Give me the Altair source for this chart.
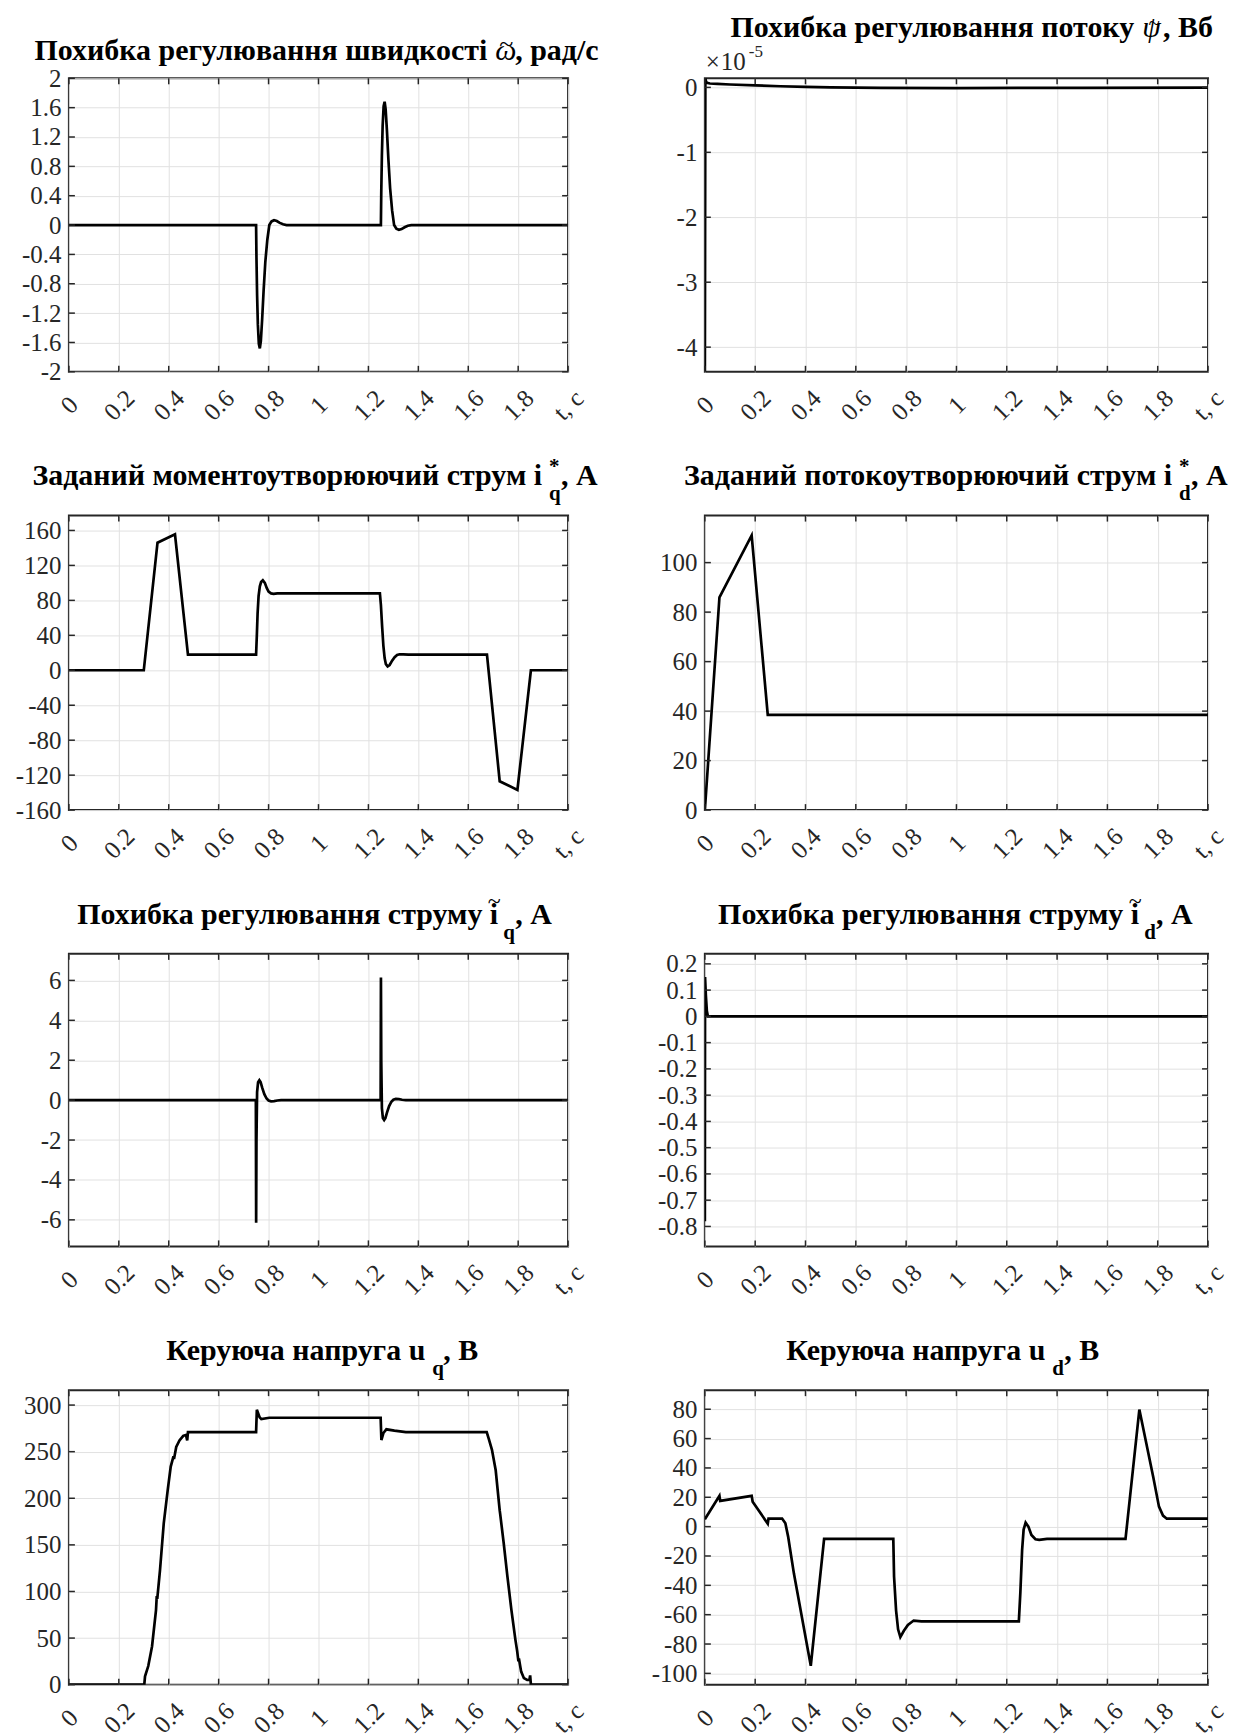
import altair as alt
import pandas as pd

FONT = "Liberation Serif"
AX = "#262626"
GRID = "#e1e1e1"

# ---------------- data ----------------
XTICKS = [0, 0.2, 0.4, 0.6, 0.8, 1.0, 1.2, 1.4, 1.6, 1.8, 2.0]

# 1. speed error, rad/s
t_w = [0, 0.75, 0.7515, 0.754, 0.757, 0.761, 0.765, 0.769, 0.774, 0.78, 0.787, 0.795, 0.803,
       0.812, 0.822, 0.833, 0.845, 0.858, 0.872, 0.89,
       1.25, 1.2515, 1.254, 1.257, 1.261, 1.265, 1.269, 1.274, 1.28, 1.287, 1.295, 1.303,
       1.312, 1.322, 1.333, 1.345, 1.358, 1.372, 1.39, 2.0]
w_err = [0, 0, -0.45, -0.95, -1.35, -1.62, -1.68, -1.58, -1.3, -0.9, -0.5, -0.2, 0.0,
         0.05, 0.065, 0.055, 0.03, 0.01, 0.0, 0,
         0, 0.45, 0.95, 1.35, 1.62, 1.68, 1.58, 1.3, 0.9, 0.5, 0.2, 0.0,
         -0.05, -0.065, -0.055, -0.03, -0.01, 0, 0, 0]
w_ticks = [-2, -1.6, -1.2, -0.8, -0.4, 0, 0.4, 0.8, 1.2, 1.6, 2]

# 2. flux error, x1e-5 Wb
t_psi = [0, 0.002, 0.004, 0.008, 0.02, 0.05, 0.1, 0.2, 0.3, 0.4, 0.5, 0.7, 1.0, 1.5, 2.0]
psi_err_e5 = [-4.6, 0.14, 0.1, 0.07, 0.06, 0.055, 0.045, 0.03, 0.018, 0.008, 0.0, -0.008,
              -0.01, -0.006, -0.004]
psi_ticks = [-4, -3, -2, -1, 0]

# 3. reference torque current iq*, A
t_iqr = [0, 0.30, 0.355, 0.425, 0.477, 0.75, 0.753, 0.756, 0.76, 0.765, 0.77, 0.777, 0.785,
         0.793, 0.80, 0.81, 0.82, 0.835, 1.246, 1.25, 1.255, 1.26, 1.265, 1.27, 1.277, 1.285,
         1.295, 1.305, 1.315, 1.325, 1.34, 1.36, 1.675, 1.726, 1.797, 1.851, 2.0]
iq_ref = [0, 0, 146, 155.5, 18, 18, 40, 65, 85, 96, 101, 103, 100, 94, 90, 88, 87.5, 88,
          88, 75, 50, 28, 14, 7, 4.5, 6, 11, 15, 17.5, 18.3, 18.2, 18, 18, -127, -137, 0, 0]
iqr_ticks = [-160, -120, -80, -40, 0, 40, 80, 120, 160]

# 4. reference flux current id*, A
t_idr = [0, 0.058, 0.186, 0.25, 2.0]
id_ref = [0, 86, 111, 38.5, 38.5]
idr_ticks = [0, 20, 40, 60, 80, 100]

# 5. iq error, A
t_iqe = [0, 0.749, 0.7502, 0.7515, 0.754, 0.758, 0.763, 0.768, 0.775, 0.783, 0.792, 0.80,
         0.81, 0.822, 0.835, 0.85, 1.249, 1.2502, 1.2515, 1.254, 1.258, 1.263, 1.268, 1.275,
         1.283, 1.292, 1.30, 1.31, 1.322, 1.335, 1.35, 2.0]
iq_err = [0, 0, -6.15, -2.0, 0.4, 0.9, 1.0, 0.9, 0.6, 0.3, 0.08, -0.02, -0.06, -0.05, -0.02,
          0, 0, 6.15, 2.0, -0.4, -0.9, -1.0, -0.9, -0.6, -0.3, -0.08, 0.02, 0.06, 0.05, 0.02,
          0, 0]
iqe_ticks = [-6, -4, -2, 0, 2, 4, 6]

# 6. id error, A
t_ide = [0, 0.0008, 0.004, 0.008, 0.012, 2.0]
id_err = [-0.78, 0.15, 0.08, 0.02, 0.0, 0.0]
ide_ticks = [-0.8, -0.7, -0.6, -0.5, -0.4, -0.3, -0.2, -0.1, 0, 0.1, 0.2]

# 7. control voltage uq, V
t_uq = [0, 0.302, 0.305, 0.318, 0.333, 0.349, 0.352, 0.354, 0.365, 0.38, 0.396, 0.408,
        0.419, 0.421, 0.43, 0.443, 0.458, 0.469, 0.474, 0.477, 0.75, 0.753, 0.764, 0.771,
        0.803, 1.249, 1.252, 1.26, 1.272, 1.304, 1.35, 1.674, 1.682, 1.695, 1.71, 1.726,
        1.728, 1.742, 1.757, 1.773, 1.789, 1.796, 1.801, 1.803, 1.812, 1.823, 1.836, 1.845,
        1.848, 1.851, 2.0]
u_q = [0, 0, 9, 20, 41, 80, 95, 92, 123, 173, 209, 234, 245, 242, 255, 262, 267, 268, 262,
       271, 271, 295, 287, 285, 286.4, 286.4, 262.5, 270, 274, 272.5, 271, 271, 264, 252, 230,
       187, 183, 152, 116, 80, 48, 36, 25, 28, 14, 7, 5, 5, 10, 0, 0]
uq_ticks = [0, 50, 100, 150, 200, 250, 300]

# 8. control voltage ud, V
t_ud = [0, 0.058, 0.061, 0.186, 0.19, 0.25, 0.253, 0.307, 0.32, 0.331, 0.343, 0.354, 0.421,
        0.474, 0.749, 0.752, 0.76, 0.768, 0.777, 0.791, 0.807, 0.83, 0.861, 1.248, 1.254,
        1.261, 1.267, 1.275, 1.286, 1.298, 1.314, 1.329, 1.36, 1.672, 1.727, 1.782, 1.805,
        1.821, 1.836, 2.0]
u_d = [5, 21, 17.5, 21, 17, 2, 5.5, 5.5, 2.3, -6.8, -20, -32, -94.8, -8.4, -8.4, -34, -57,
       -70, -75.3, -71, -67, -64, -64.6, -64.6, -45, -16, -2, 2.7, 0, -5.7, -8.6, -9, -8.4,
       -8.4, 79.8, 34, 13.6, 7.5, 5.4, 5.4]
ud_ticks = [-100, -80, -60, -40, -20, 0, 20, 40, 60, 80]

# ---------------- helpers ----------------
ONE = pd.DataFrame({"k": [0]})
XLABEL = "datum.value > 1.99 ? 't, c' : format(datum.value, '.1~f')"
YLABEL = "(datum.value < 0 ? '-' : '') + format(abs(datum.value), '.1~f')"
TS = 30   # title font size
SS = 21   # sub/superscript size
LS = 25   # tick label size


def txt(s, x, y, size, bold=True, align="left", color="black", italic=False):
    return alt.Chart(ONE).mark_text(
        text=s, align=align, baseline="alphabetic", font=FONT, fontSize=size,
        fontWeight="bold" if bold else "normal",
        fontStyle="italic" if italic else "normal", color=color
    ).encode(x=alt.value(x), y=alt.value(y))


def tilde(x, y, size=26):
    return txt("~", x, y, size, bold=False, align="center")


def panel(t, v, ydom, yticks, w, h, texts, anchor=False):
    df = pd.DataFrame({"t": t, "v": v})
    lab = dict(labelFont=FONT, labelFontSize=LS, labelColor=AX)
    xenc = alt.X("t:Q", title=None,
                 scale=alt.Scale(domain=[0, 2], nice=False, zero=False),
                 axis=alt.Axis(values=XTICKS, labelExpr=XLABEL, labelAngle=315,
                               labelAlign="center", labelBaseline="middle",
                               labelPadding=33, labelFlush=False, labelOverlap=False,
                               labelBound=False, grid=True, ticks=False, domain=False,
                               gridColor=GRID, **lab))
    yenc = alt.Y("v:Q", title=None,
                 scale=alt.Scale(domain=ydom, nice=False, zero=False),
                 axis=alt.Axis(values=yticks, labelExpr=YLABEL, labelPadding=8,
                               labelFlush=False, labelOverlap=False, grid=True,
                               ticks=False, domain=False, gridColor=GRID, **lab))
    line = alt.Chart(df).mark_line(color="black", strokeWidth=2.7, clip=True).encode(
        x=xenc, y=yenc)
    xt = pd.DataFrame({"t": XTICKS})
    yt = pd.DataFrame({"v": yticks})
    tk = dict(color=AX, strokeWidth=1.5)
    top = alt.Chart(xt).mark_rule(**tk).encode(x=xenc, y=alt.value(0), y2=alt.value(6))
    bot = alt.Chart(xt).mark_rule(**tk).encode(x=xenc, y=alt.value(h - 6), y2=alt.value(h))
    left = alt.Chart(yt).mark_rule(**tk).encode(y=yenc, x=alt.value(0), x2=alt.value(6))
    right = alt.Chart(yt).mark_rule(**tk).encode(y=yenc, x=alt.value(w - 6), x2=alt.value(w))
    layers = [line, top, bot, left, right] + texts
    if anchor:
        layers.append(alt.Chart(ONE).mark_rule(color="white", opacity=0).encode(
            x=alt.value(-60), x2=alt.value(-59), y=alt.value(-68), y2=alt.value(-67)))
    return alt.layer(*layers).properties(width=w, height=h)


W1, W2 = 500, 504
XO = 427   # left edge of omega in title 1 (relative to panel)
XP = 438   # left edge of psi in title 2
p1 = panel(t_w, w_err, [-2, 2], w_ticks, W1, 294, [
    txt("Похибка регулювання швидкості", XO - 8, -18, TS, align="right"),
    txt("ω", XO, -18, TS, bold=False, italic=True),
    tilde(XO + 11, -26),
    txt(", рад/с", XO + 20, -18, TS),
], anchor=True)
p2 = panel(t_psi, psi_err_e5, [-4.38, 0.14], psi_ticks, W2, 294, [
    txt("Похибка регулювання потоку", XP - 8, -41, TS, align="right"),
    txt("ψ", XP, -41, TS, bold=False, italic=True),
    tilde(XP + 12, -48, 21),
    txt(", Вб", XP + 21, -41, TS),
    txt("×", 1, -8, 25, bold=False, color=AX),
    txt("10", 16, -8, 25, bold=False, color=AX),
    txt("-5", 44, -21, 17, bold=False, color=AX),
])
p3 = panel(t_iqr, iq_ref, [-160, 177], iqr_ticks, W1, 295, [
    txt("Заданий моментоутворюючий струм i", 474, -31, TS, align="right"),
    txt("*", 481, -43, SS),
    txt("q", 481, -16, SS),
    txt(", А", 493, -31, TS),
])
p4 = panel(t_idr, id_ref, [0, 119], idr_ticks, W2, 295, [
    txt("Заданий потокоутворюючий струм i", 468, -31, TS, align="right"),
    txt("*", 475, -43, SS),
    txt("d", 475, -16, SS),
    txt(", А", 487, -31, TS),
])
p5 = panel(t_iqe, iq_err, [-7.33, 7.33], iqe_ticks, W1, 293, [
    txt("Похибка регулювання струму i", 430, -30, TS, align="right"),
    tilde(426, -45, 24),
    txt("q", 435, -15, SS),
    txt(", А", 447, -30, TS),
])
p6 = panel(t_ide, id_err, [-0.876, 0.238], ide_ticks, W2, 293, [
    txt("Похибка регулювання струму i", 435, -30, TS, align="right"),
    tilde(431, -45, 24),
    txt("d", 440, -15, SS),
    txt(", А", 452, -30, TS),
])
p7 = panel(t_uq, u_q, [0, 316], uq_ticks, W1, 295, [
    txt("Керуюча напруга u", 357, -30, TS, align="right"),
    txt("q", 364, -15, SS),
    txt(", В", 375, -30, TS),
])
p8 = panel(t_ud, u_d, [-107.7, 93], ud_ticks, W2, 295, [
    txt("Керуюча напруга u", 341, -30, TS, align="right"),
    txt("d", 348, -15, SS),
    txt(", В", 360, -30, TS),
])

chart = alt.concat(
    p1, p2, p3, p4, p5, p6, p7, p8,
    columns=2,
    spacing=alt.RowColnumber(row=144, column=137),
    bounds="flush",
).properties(padding=0, background="white").configure_axis(
    labelFont=FONT, labelFontSize=LS, labelColor=AX, gridColor=GRID, gridWidth=1,
).configure_view(stroke=AX, strokeWidth=2)

chart.save("out.html", embed_options={"renderer": "svg", "actions": False})
